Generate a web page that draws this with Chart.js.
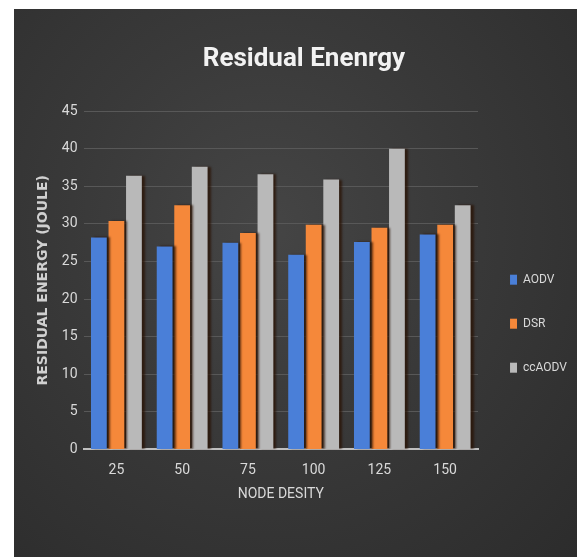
<!DOCTYPE html>
<html>
<head>
<meta charset="utf-8">
<script src="https://cdn.jsdelivr.net/npm/chart.js@4"></script>
<style>
  body { margin: 0; background: #fff; }
  #wrap {
    position: absolute; left: 14px; top: 9px; width: 563px; height: 548px;
    background: radial-gradient(ellipse at 45% 40%, #454545 0%, #393939 45%, #2c2c2c 100%);
  }
</style>
</head>
<body>
<div id="wrap"><canvas id="energyChart" width="563" height="548"></canvas></div>
<script>
const nodeDensity = ['25', '50', '75', '100', '125', '150'];
const aodv = [28.2, 27.0, 27.5, 25.9, 27.6, 28.6];
const dsr = [30.4, 32.5, 28.8, 29.9, 29.5, 29.9];
const ccAodv = [36.4, 37.6, 36.6, 35.9, 40.0, 32.5];

const narrow = "Roboto, sans-serif";

// soft shadow on the right side of the bars
const barShadow = {
  id: 'barShadow',
  beforeDatasetsDraw(chart) {
    const ctx = chart.ctx;
    ctx.save();
    ctx.shadowColor = 'rgba(40, 15, 0, 0.7)';
    ctx.shadowOffsetX = 3;
    ctx.shadowOffsetY = 0;
    ctx.shadowBlur = 2;
  },
  afterDatasetsDraw(chart) {
    chart.ctx.restore();
  }
};

const ctx = document.getElementById('energyChart').getContext('2d');
const energyChart = new Chart(ctx, {
  type: 'bar',
  data: {
    labels: nodeDensity,
    datasets: [
      { label: 'AODV', data: aodv, backgroundColor: '#4a7fd8' },
      { label: 'DSR', data: dsr, backgroundColor: '#f5883a' },
      { label: 'ccAODV', data: ccAodv, backgroundColor: '#b9b9b9' }
    ]
  },
  plugins: [barShadow],
  options: {
    responsive: false,
    animation: false,
    layout: { padding: { top: 17, right: 0, left: 17, bottom: 50 } },
    datasets: {
      bar: { categoryPercentage: 0.8, barPercentage: 0.9 }
    },
    plugins: {
      title: {
        display: true,
        text: 'Residual Enenrgy',
        color: '#f2f2f2',
        font: { family: narrow, size: 26, weight: 'bold' },
        padding: { top: 18, bottom: 36 }
      },
      legend: {
        position: 'right',
        title: { display: true, text: ' ', padding: { top: 100 } },
        labels: {
          color: '#d9d9d9',
          font: { family: narrow, size: 12 },
          boxWidth: 7,
          boxHeight: 10,
          padding: 32
        }
      },
      tooltip: { enabled: false }
    },
    scales: {
      x: {
        grid: { display: false },
        border: { color: '#bfbfbf', width: 2 },
        ticks: {
          color: '#d9d9d9',
          font: { family: narrow, size: 14 },
          padding: 5
        },
        title: {
          display: true,
          text: 'NODE DESITY',
          color: '#d9d9d9',
          font: { family: narrow, size: 14 },
          padding: { top: 2 }
        }
      },
      y: {
        min: 0,
        max: 45,
        ticks: {
          stepSize: 5,
          color: '#d9d9d9',
          font: { family: narrow, size: 14 },
          padding: 6
        },
        grid: { color: '#585858', drawTicks: false },
        border: { display: false },
        title: {
          display: true,
          text: 'RESIDUAL ENERGY (JOULE)',
          color: '#d0d0d0',
          font: { family: 'DejaVu Sans', size: 14, weight: 'bold' },
          padding: { bottom: 4 }
        }
      }
    }
  }
});
</script>
</body>
</html>
